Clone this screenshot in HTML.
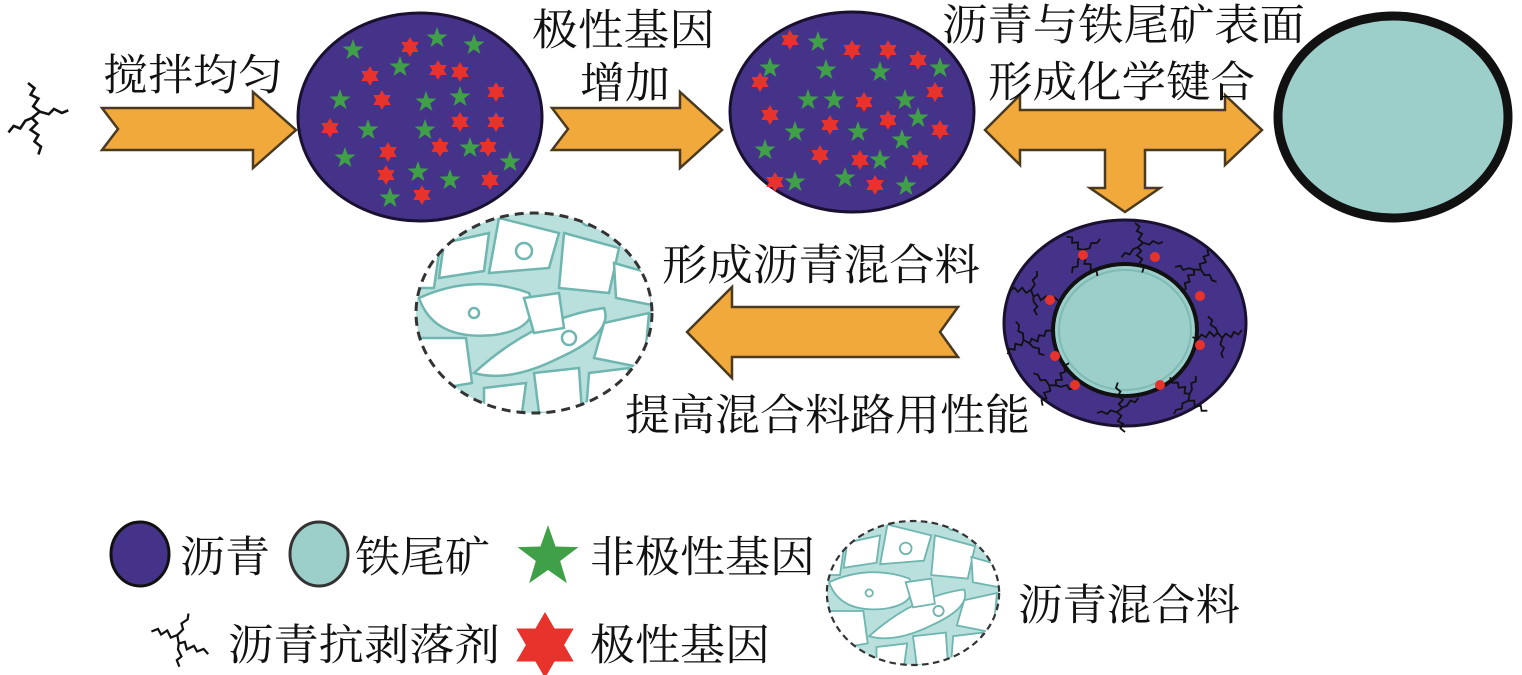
<!DOCTYPE html>
<html><head><meta charset="utf-8"><style>
html,body{margin:0;padding:0;background:#fff;width:1522px;height:675px;overflow:hidden}
text{font-family:"Liberation Serif","Noto Serif CJK SC",serif;fill:#111}
</style></head><body>
<svg width="1522" height="675" viewBox="0 0 1522 675" xmlns="http://www.w3.org/2000/svg">
<defs>
<polygon id="st" points="0,-11 2.6,-3.6 10.5,-3.4 4.2,1.4 6.5,9 0,4.5 -6.5,9 -4.2,1.4 -10.5,-3.4 -2.6,-3.6" fill="#3fa048"/>
<polygon id="hx" points="0,-10 2.9,-5 8.7,-5 5.8,0 8.7,5 2.9,5 0,10 -2.9,5 -8.7,5 -5.8,0 -8.7,-5 -2.9,-5" fill="#e8322c"/>
<path id="sq" d="M0,-30 l5,4 l-3,5 l6,3 l-4,6 l5,4 M9,-8 l-6,5 l4,4 l-5,5 l6,4 l-3,5 l5,4 l-2,6 M3,-3 l-5,2 l-4,6 l-5,-2 l-4,5 M9,-8 l7,2 l4,-4 l6,3 l5,-2" stroke="#111" stroke-width="2" fill="none"/>
<clipPath id="mc"><ellipse cx="0" cy="0" rx="118" ry="100"/></clipPath>
<g id="mix">
<g clip-path="url(#mc)">
<ellipse cx="0" cy="0" rx="118" ry="100" fill="#b9e0dc"/>
<g fill="#fff" stroke="#6fb5b0" stroke-width="2.5">
<path d="M-115,-15 Q-60,-40 -5,-20 Q10,15 -40,22 Q-100,28 -115,-15Z"/>
<path d="M-60,60 Q0,5 70,-5 Q80,20 25,45 Q-25,70 -60,60Z"/>
<path d="M-35,-95 L25,-80 L15,-45 L-45,-40Z"/>
<path d="M30,-80 L85,-65 L75,-20 L25,-25Z"/>
<path d="M70,10 L115,0 L110,55 L60,45Z"/>
<path d="M-115,25 L-68,25 L-62,70 L-110,78Z"/>
<path d="M0,60 L45,55 L48,100 L5,100Z"/>
<path d="M-90,-70 L-45,-80 L-50,-42 L-95,-35Z"/>
<path d="M80,-50 L115,-40 L118,-8 L82,-15Z"/>
<path d="M-50,75 L-8,70 L-12,100 L-50,100Z"/>
<path d="M55,60 L95,55 L90,100 L52,100Z"/>
<path d="M-10,-15 L25,-20 L30,15 L0,20Z"/>
<path d="M-118,-60 L-95,-60 L-100,-25 L-118,-25Z"/>
<circle cx="-10" cy="-62" r="8"/><circle cx="90" cy="80" r="8"/><circle cx="-85" cy="85" r="8"/><circle cx="35" cy="25" r="7"/>
<circle cx="55" cy="-95" r="8"/><circle cx="-60" cy="0" r="5"/>
</g>
</g>
<ellipse cx="0" cy="0" rx="118" ry="100" fill="none" stroke="#333" stroke-width="3" stroke-dasharray="9,6"/>
</g>
</defs>

<g transform="translate(28,122) scale(1.3,1.3)"><use href="#sq"/></g>

<g fill="#f2a93b" stroke="#4a3a20" stroke-width="2.5">
<polygon points="102,108 253,108 253,92 296,130 253,168 253,150 102,150 118,129"/>
<polygon points="552,108 680,108 680,92 722,130 680,168 680,150 552,150 568,129"/>
<polygon points="985,130 1020,95 1020,110 1225,110 1225,95 1262,130 1225,165 1225,150 1145,150 1145,188 1160,188 1125,212 1090,188 1105,188 1105,150 1020,150 1020,165"/>
<polygon points="687,332 732,287 732,307 958,307 940,332 958,357 732,357 732,378"/>
</g>

<ellipse cx="420" cy="117" rx="122" ry="104" fill="#45338a" stroke="#1a1030" stroke-width="3"/>
<g>
<use href="#st" x="437" y="38"/><use href="#st" x="474" y="45"/><use href="#st" x="353" y="50"/><use href="#st" x="400" y="67"/>
<use href="#st" x="340" y="100"/><use href="#st" x="426" y="102"/><use href="#st" x="460" y="97"/><use href="#st" x="368" y="130"/>
<use href="#st" x="425" y="130"/><use href="#st" x="470" y="148"/><use href="#st" x="510" y="162"/><use href="#st" x="345" y="158"/>
<use href="#st" x="418" y="172"/><use href="#st" x="450" y="180"/><use href="#st" x="390" y="198"/>
<use href="#hx" x="410" y="47"/><use href="#hx" x="370" y="76"/><use href="#hx" x="438" y="70"/><use href="#hx" x="460" y="72"/>
<use href="#hx" x="382" y="100"/><use href="#hx" x="496" y="92"/><use href="#hx" x="330" y="128"/><use href="#hx" x="460" y="122"/>
<use href="#hx" x="496" y="122"/><use href="#hx" x="388" y="152"/><use href="#hx" x="440" y="147"/><use href="#hx" x="488" y="147"/>
<use href="#hx" x="386" y="175"/><use href="#hx" x="490" y="180"/><use href="#hx" x="422" y="195"/>
</g>

<ellipse cx="852" cy="112" rx="122" ry="100" fill="#45338a" stroke="#1a1030" stroke-width="3"/>
<g>
<use href="#st" x="818" y="42"/><use href="#st" x="770" y="68"/><use href="#st" x="826" y="70"/><use href="#st" x="880" y="72"/>
<use href="#st" x="940" y="68"/><use href="#st" x="808" y="100"/><use href="#st" x="834" y="100"/><use href="#st" x="905" y="100"/>
<use href="#st" x="918" y="118"/><use href="#st" x="795" y="132"/><use href="#st" x="858" y="132"/><use href="#st" x="902" y="140"/>
<use href="#st" x="765" y="150"/><use href="#st" x="880" y="160"/><use href="#st" x="795" y="182"/><use href="#st" x="906" y="186"/><use href="#st" x="845" y="178"/>
<use href="#hx" x="790" y="40"/><use href="#hx" x="852" y="50"/><use href="#hx" x="888" y="50"/><use href="#hx" x="918" y="60"/>
<use href="#hx" x="760" y="82"/><use href="#hx" x="864" y="102"/><use href="#hx" x="935" y="92"/><use href="#hx" x="770" y="115"/>
<use href="#hx" x="830" y="125"/><use href="#hx" x="888" y="120"/><use href="#hx" x="940" y="130"/><use href="#hx" x="820" y="155"/>
<use href="#hx" x="860" y="160"/><use href="#hx" x="920" y="160"/><use href="#hx" x="775" y="182"/><use href="#hx" x="875" y="185"/>
</g>

<ellipse cx="1393" cy="117" rx="115" ry="101" fill="#9ccfca" stroke="#111" stroke-width="9"/>

<ellipse cx="1125" cy="323" rx="121" ry="103" fill="#45338a" stroke="#1a1030" stroke-width="3"/>
<ellipse cx="1125" cy="330" rx="72" ry="66" fill="#9ccfca" stroke="#111" stroke-width="4"/>
<ellipse cx="1125" cy="330" rx="66" ry="60" fill="none" stroke="#7fbab5" stroke-width="2"/>
<g>
<use href="#sq" transform="translate(1035,300) rotate(-70) scale(0.9)"/><use href="#sq" transform="translate(1080,260) rotate(-30) scale(0.9)"/>
<use href="#sq" transform="translate(1135,250) rotate(0) scale(0.9)"/><use href="#sq" transform="translate(1190,270) rotate(40) scale(0.9)"/>
<use href="#sq" transform="translate(1215,330) rotate(90) scale(0.9)"/><use href="#sq" transform="translate(1190,390) rotate(140) scale(0.9)"/>
<use href="#sq" transform="translate(1125,405) rotate(180) scale(0.9)"/><use href="#sq" transform="translate(1060,385) rotate(220) scale(0.9)"/>
<use href="#sq" transform="translate(1033,345) rotate(250) scale(0.9)"/>
</g>
<g fill="#e8322c">
<circle cx="1083" cy="255" r="5"/><circle cx="1155" cy="257" r="5"/><circle cx="1200" cy="296" r="5"/><circle cx="1050" cy="300" r="5"/>
<circle cx="1200" cy="345" r="5"/><circle cx="1055" cy="356" r="5"/><circle cx="1075" cy="385" r="5"/><circle cx="1160" cy="385" r="5"/>
</g>

<g transform="translate(534,313)"><use href="#mix"/></g>

<g font-size="43">
<text x="103" y="90" textLength="180" lengthAdjust="spacingAndGlyphs">搅拌均匀</text>
<text x="532" y="45" textLength="183" lengthAdjust="spacingAndGlyphs">极性基因</text>
<text x="580" y="98" textLength="90" lengthAdjust="spacingAndGlyphs">增加</text>
<text x="942" y="40" textLength="363" lengthAdjust="spacingAndGlyphs">沥青与铁尾矿表面</text>
<text x="988" y="97" textLength="267" lengthAdjust="spacingAndGlyphs">形成化学键合</text>
<text x="662" y="280" textLength="318" lengthAdjust="spacingAndGlyphs">形成沥青混合料</text>
<text x="625" y="430" textLength="405" lengthAdjust="spacingAndGlyphs">提高混合料路用性能</text>
</g>

<ellipse cx="140" cy="554" rx="29" ry="32" fill="#45338a" stroke="#111" stroke-width="3"/>
<ellipse cx="319" cy="554" rx="29" ry="32" fill="#9ccfca" stroke="#333" stroke-width="3"/>
<g transform="translate(548,557) scale(2.9)"><use href="#st"/></g>
<g transform="translate(545,645) scale(3.3)"><use href="#hx"/></g>
<g transform="translate(180,648) rotate(-60) scale(1.1)"><use href="#sq"/></g>
<g transform="translate(913,593) scale(0.73,0.72)"><use href="#mix"/></g>
<g font-size="43">
<text x="180" y="572" textLength="90" lengthAdjust="spacingAndGlyphs">沥青</text>
<text x="355" y="572" textLength="135" lengthAdjust="spacingAndGlyphs">铁尾矿</text>
<text x="590" y="572" textLength="225" lengthAdjust="spacingAndGlyphs">非极性基因</text>
<text x="1018" y="620" textLength="222" lengthAdjust="spacingAndGlyphs">沥青混合料</text>
<text x="228" y="660" textLength="272" lengthAdjust="spacingAndGlyphs">沥青抗剥落剂</text>
<text x="590" y="660" textLength="180" lengthAdjust="spacingAndGlyphs">极性基因</text>
</g>
</svg>
</body></html>
